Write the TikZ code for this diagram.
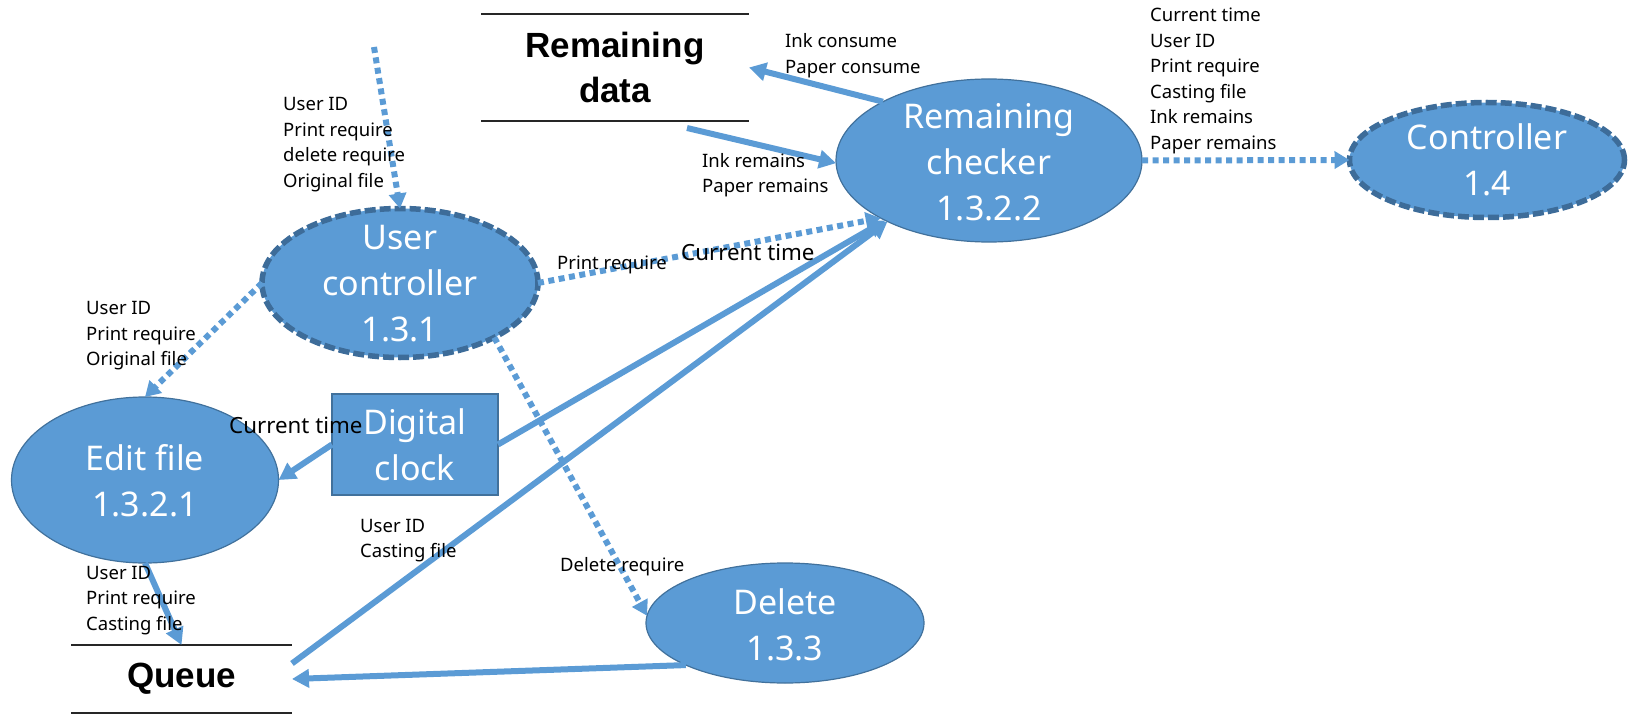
\documentclass[tikz,border=0pt]{standalone}
\usepackage{fontspec}
\setmainfont{Noto Sans}
\newfontfamily\storefont{Liberation Sans}
\usetikzlibrary{arrows.meta,shapes.geometric}
\definecolor{fillblue}{HTML}{5B9BD5}
\definecolor{edgeblue}{HTML}{41719C}
\definecolor{dashblue}{HTML}{3D6C99}
\begin{document}
\begin{tikzpicture}[x=1pt,y=-1pt,
  proc/.style={ellipse, fill=fillblue, draw=edgeblue, line width=1.2pt, inner sep=0pt, outer sep=0pt},
  dproc/.style={proc, draw=dashblue, line width=5.5pt, dash pattern=on 11pt off 4pt},
  ptext/.style={text=white, align=center, inner sep=0pt, font=\fontsize{34}{46}\selectfont},
  lbl/.style={anchor=west, align=left, inner sep=0pt, font=\fontsize{18.5}{25.5}\selectfont},
  biglbl/.style={anchor=west, inner sep=0pt, font=\fontsize{22.3}{28}\selectfont},
  store/.style={inner sep=0pt, outer sep=0pt, align=center, font=\storefont\bfseries\fontsize{35}{45}\selectfont},
  storeline/.style={line width=2.5pt, draw=black!85},
  flow/.style={draw=fillblue, line width=6pt, -{Triangle[length=17pt,width=18pt]}},
  dflow/.style={draw=fillblue, line width=6pt, dash pattern=on 6pt off 4.5pt, -{Triangle[length=15pt,width=17pt]}},
]
\useasboundingbox (0,0) rectangle (1630,714);

% stores
\node[store, minimum width=268pt, minimum height=107pt] (rd) at (615,67.5) {Remaining\\data};
\draw[storeline] (rd.north west) -- (rd.north east);
\draw[storeline] (rd.south west) -- (rd.south east);
\node[store, minimum width=221pt, minimum height=68pt] (q) at (181.5,679) {Queue};
\draw[storeline] (q.north west) -- (q.north east);
\draw[storeline] (q.south west) -- (q.south east);

% processes
\node[dproc, minimum width=276pt, minimum height=149pt] (uc) at (400,283) {};
\node[proc, minimum width=267pt, minimum height=166pt] (ef) at (145,480) {};
\node[proc, minimum width=306pt, minimum height=163pt] (rc) at (989,160.5) {};
\node[dproc, minimum width=275pt, minimum height=115pt] (ct) at (1487,160) {};
\node[proc, minimum width=278pt, minimum height=120pt] (del) at (785,623) {};
\node[rectangle, fill=fillblue, draw=edgeblue, line width=1.5pt, minimum width=166pt, minimum height=101pt, inner sep=0pt, outer sep=0pt, text=white, align=center, font=\fontsize{34}{46}\selectfont] (dc) at (415,444.5) {Digital\\clock};

% free ends
\coordinate (src) at (374,47);
\coordinate (rdout) at (687,128);

% connectors
\draw[dflow] (src) -- (uc.north);
\draw[dflow] (uc.west) -- (ef.north);
\draw[dflow] (uc.east) -- (rc.208);
\draw[dflow] (uc.-30) -- (del.177);
\draw[dflow] (rc.east) -- (ct.west);
\draw[flow] (dc.east) -- (rc.210);
\draw[flow] (q.8) -- (rc.211);
\draw[flow] (dc.west) -- (ef.east);
\draw[flow] (ef.south) -- (q.north);
\draw[flow] (del.203) -- (q.east);
\draw[flow] (rdout) -- (rc.181);
\draw[flow] (rc.151) -- (rd.east);

% process texts
\node[ptext] (uct) at (400,284) {User\\controller\\1.3.1};
\node[ptext] (eft) at (145,481) {Edit file\\1.3.2.1};
\node[ptext] (rct) at (989,162) {Remaining\\checker\\1.3.2.2};
\node[ptext] (ctt) at (1487,160) {Controller\\1.4};
\node[ptext] (delt) at (785,625) {Delete\\1.3.3};

% labels
\node[lbl] (lbA) at (283,144.5) {User ID\\Print require\\delete require\\Original file};
\node[lbl] (lbB) at (86,336) {User ID\\Print require\\Original file};
\node[lbl] (lbC) at (557,265) {Print require};
\node[biglbl] (lbD) at (681,252) {Current time};
\node[biglbl] (lbE) at (229,425) {Current time};
\node[lbl] (lbF) at (360,540.5) {User ID\\Casting file};
\node[lbl] (lbG) at (560,567) {Delete require};
\node[lbl] (lbH) at (86,600.5) {User ID\\Print require\\Casting file};
\node[lbl] (lbI) at (702,175) {Ink remains\\Paper remains};
\node[lbl] (lbJ) at (785,55.5) {Ink consume\\Paper consume};
\node[lbl] (lbK) at (1150,81) {Current time\\User ID\\Print require\\Casting file\\Ink remains\\Paper remains};
\end{tikzpicture}
\end{document}
